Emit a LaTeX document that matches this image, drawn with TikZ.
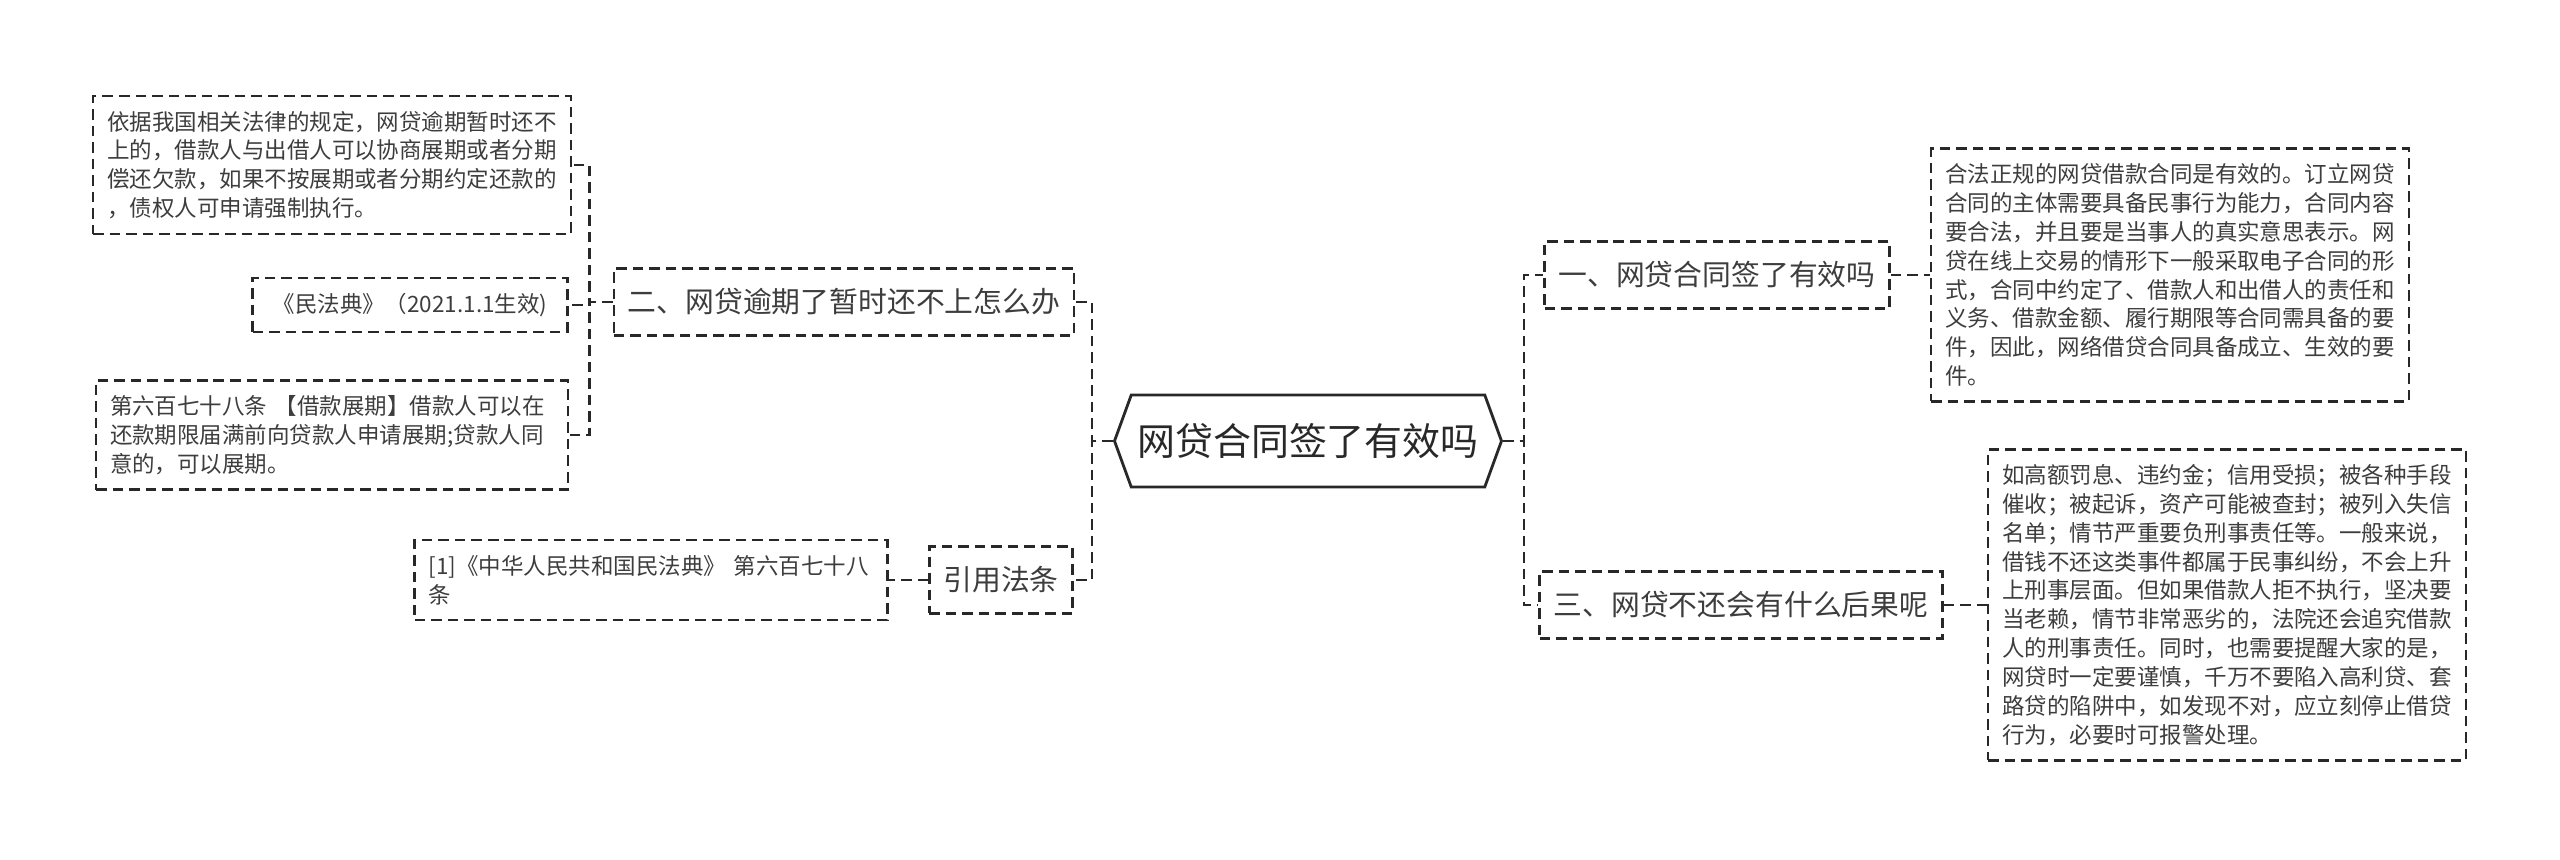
\documentclass[tikz,border=0pt]{standalone}
\usepackage{fontspec}
\setmainfont{Noto Sans CJK SC}
\usepackage{tikz}
\usetikzlibrary{shapes.symbols}
\definecolor{inkgray}{RGB}{40,40,40}

\begin{document}
\begin{tikzpicture}[
  box/.style={draw=inkgray, line width=0.7pt, dash pattern=on 3pt off 1.7pt, text=inkgray!90, inner xsep=0.14cm, inner ysep=0.15cm},
  topic/.style={box, font=\fontsize{8.2pt}{10pt}\selectfont, inner ysep=0.2cm},
  leaf/.style={box, align=left, font=\fontsize{6.4pt}{8.2pt}\selectfont},
  link/.style={draw=inkgray, line width=0.8pt, dash pattern=on 3pt off 1.7pt},
]
\useasboundingbox (0,0) rectangle (25.6,8.59);

% Root
\node[draw=inkgray, line width=0.8pt, shape=signal, signal to=west and east, signal pointer angle=140,
      minimum width=3.87cm, minimum height=0.92cm, inner xsep=0.05cm, text=inkgray,
      font=\fontsize{10.8pt}{13pt}\selectfont] (root) at (13.08,4.18) {网贷合同签了有效吗};

% Right side
\node[topic] (valid) at (17.17,5.84) {一、网贷合同签了有效吗};
\node[leaf] (validtxt) at (21.70,5.84)
  {合法正规的网贷借款合同是有效的。订立网贷\\合同的主体需要具备民事行为能力，合同内容\\要合法，并且要是当事人的真实意思表示。网\\贷在线上交易的情形下一般采取电子合同的形\\式，合同中约定了、借款人和出借人的责任和\\义务、借款金额、履行期限等合同需具备的要\\件，因此，网络借贷合同具备成立、生效的要\\件。};

\node[topic] (result) at (17.41,2.54) {三、网贷不还会有什么后果呢};
\node[leaf] (resulttxt) at (22.27,2.54)
  {如高额罚息、违约金；信用受损；被各种手段\\催收；被起诉，资产可能被查封；被列入失信\\名单；情节严重要负刑事责任等。一般来说，\\借钱不还这类事件都属于民事纠纷，不会上升\\上刑事层面。但如果借款人拒不执行，坚决要\\当老赖，情节非常恶劣的，法院还会追究借款\\人的刑事责任。同时，也需要提醒大家的是，\\网贷时一定要谨慎，千万不要陷入高利贷、套\\路贷的陷阱中，如发现不对，应立刻停止借贷\\行为，必要时可报警处理。};

% Left side
\node[topic] (overdue) at (8.44,5.57) {二、网贷逾期了暂时还不上怎么办};
\node[leaf] (overduetxt) at (3.32,6.94)
  {依据我国相关法律的规定，网贷逾期暂时还不\\上的，借款人与出借人可以协商展期或者分期\\偿还欠款，如果不按展期或者分期约定还款的\\，债权人可申请强制执行。};
\node[leaf, align=center, minimum width=3.15cm] (code) at (4.10,5.54) {《民法典》（2021.1.1生效)};
\node[leaf, text width=4.44cm] (article) at (3.32,4.24)
  {第六百七十八条 【借款展期】借款人可以在\\还款期限届满前向贷款人申请展期;贷款人同\\意的，可以展期。};

\node[topic] (cite) at (10.01,2.79) {引用法条};
\node[leaf, text width=4.45cm] (citetxt) at (6.51,2.79) {[1]《中华人民共和国民法典》 第六百七十八\\条};

\draw[link] (root.east) -- ++(0.21,0) |- (valid.west);
\draw[link] (root.east) -- ++(0.21,0) |- (result.west);
\draw[link] (valid.east) -- (validtxt.west);
\draw[link] (result.east) -- (resulttxt.west);

\draw[link] (root.west) -- ++(-0.21,0) |- (overdue.east);
\draw[link] (root.west) -- ++(-0.21,0) |- (cite.east);
\draw[link] (overdue.west) -- ++(-0.23,0) |- (overduetxt.east);
\draw[link] (overdue.west) -- ++(-0.23,0) |- (code.east);
\draw[link] (overdue.west) -- ++(-0.23,0) |- (article.east);
\draw[link] (cite.west) -- (citetxt.east);
\end{tikzpicture}
\end{document}
